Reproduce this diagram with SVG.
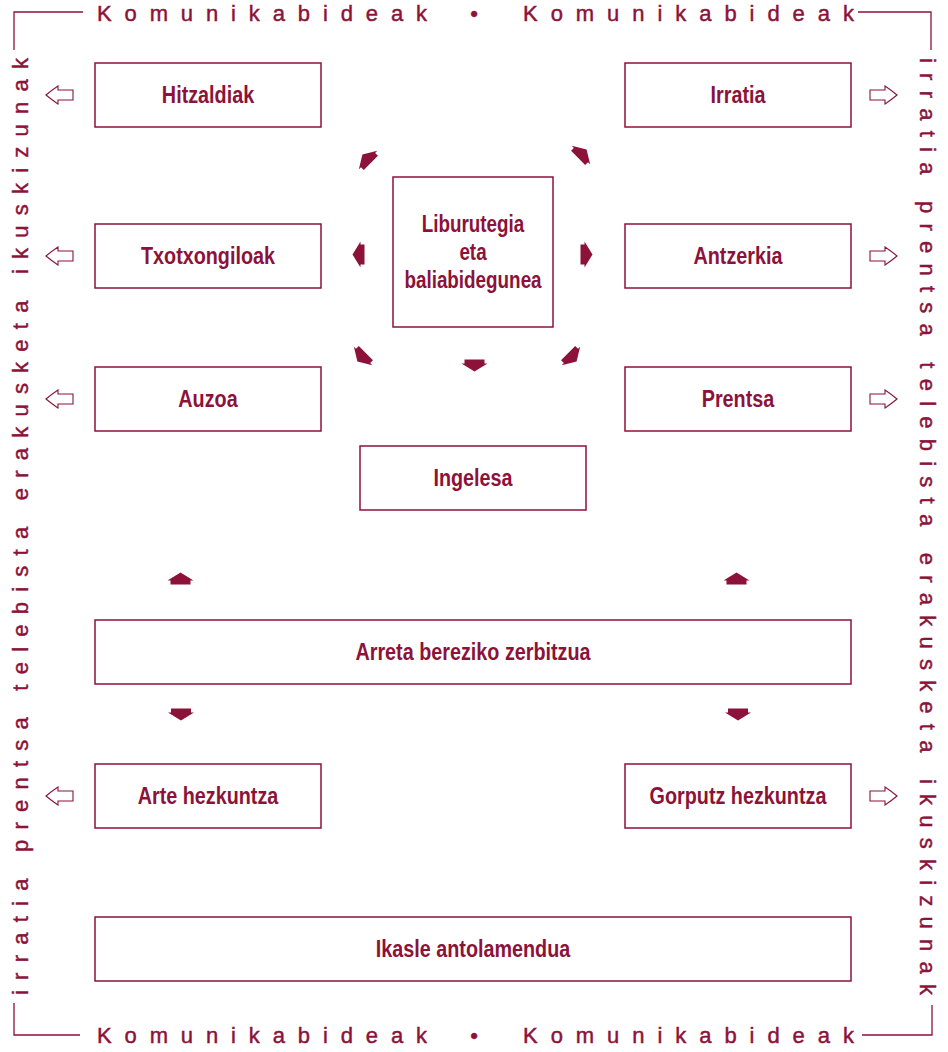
<svg xmlns="http://www.w3.org/2000/svg" width="948" height="1052" viewBox="0 0 948 1052">
<defs>
<style>
.box{fill:#fff;stroke:#8c1239;stroke-width:1.5}
.lbl{font-family:"Liberation Sans",Arial,sans-serif;font-weight:bold;font-size:23px;fill:#8c1239;text-anchor:middle}
.frm{font-family:"Liberation Sans",Arial,sans-serif;font-size:22px;fill:#8c1239;stroke:#8c1239;stroke-width:0.45}
.ln{fill:none;stroke:#8c1239;stroke-width:1.3}
.fa{fill:#8c1239}
.ha{fill:#fff;stroke:#8c1239;stroke-width:1.1}
</style>
<path id="fa" d="M0,-6.5 L13,1.5 L10,1.5 L10,5.5 L-10,5.5 L-10,1.5 L-13,1.5 Z"/>
<path id="ha" d="M0,0 Q6,-5 12,-9 L12,-5 L27,-5 L27,5 L12,5 L12,9 Q6,5 0,0 Z"/>
</defs>
<rect width="948" height="1052" fill="#fff"/>

<g id="frame">
<path class="ln" d="M14,50 V12 H83"/>
<path class="ln" d="M858,12 H931 V50"/>
<path class="ln" d="M14,1003 V1035 H80"/>
<path class="ln" d="M862,1035 H932 V1005"/>
<text class="frm" x="97" y="21" textLength="330" lengthAdjust="spacing">Komunikabideak</text>
<text class="frm" x="474" y="21" text-anchor="middle">•</text>
<text class="frm" x="523" y="21" textLength="331" lengthAdjust="spacing">Komunikabideak</text>
<text class="frm" x="97" y="1043" textLength="330" lengthAdjust="spacing">Komunikabideak</text>
<text class="frm" x="474" y="1043" text-anchor="middle">•</text>
<text class="frm" x="523" y="1043" textLength="331" lengthAdjust="spacing">Komunikabideak</text>
<text class="frm" transform="translate(28,995) rotate(-90)" x="0" y="0" textLength="937" lengthAdjust="spacing">irratia prentsa telebista erakusketa ikuskizunak</text>
<text class="frm" transform="translate(920,58) rotate(90)" x="0" y="0" textLength="937" lengthAdjust="spacing">irratia prentsa telebista erakusketa ikuskizunak</text>
</g>

<g id="connectors">
<use href="#fa" class="fa" transform="translate(474.5,365) rotate(180)"/>
<use href="#fa" class="fa" transform="translate(359,254.5) rotate(-90)"/>
<use href="#fa" class="fa" transform="translate(586,254.5) rotate(90)"/>
<use href="#fa" class="fa" transform="translate(367,159) rotate(-45)"/>
<use href="#fa" class="fa" transform="translate(582,154) rotate(45)"/>
<use href="#fa" class="fa" transform="translate(362,357) rotate(-135)"/>
<use href="#fa" class="fa" transform="translate(572,357) rotate(135)"/>
<use href="#fa" class="fa" transform="translate(180.5,579)"/>
<use href="#fa" class="fa" transform="translate(736.5,579)"/>
<use href="#fa" class="fa" transform="translate(181,714) rotate(180)"/>
<use href="#fa" class="fa" transform="translate(738,714) rotate(180)"/>
<use href="#ha" class="ha" transform="translate(46,95)"/>
<use href="#ha" class="ha" transform="translate(46,256)"/>
<use href="#ha" class="ha" transform="translate(46,399)"/>
<use href="#ha" class="ha" transform="translate(46,796)"/>
<use href="#ha" class="ha" transform="translate(897,95) scale(-1,1)"/>
<use href="#ha" class="ha" transform="translate(897,256) scale(-1,1)"/>
<use href="#ha" class="ha" transform="translate(897,399) scale(-1,1)"/>
<use href="#ha" class="ha" transform="translate(897,796) scale(-1,1)"/>
</g>

<g id="n-hitzaldiak"><rect class="box" x="95" y="63" width="226" height="64"/><text class="lbl" transform="translate(208,103) scale(0.86,1)">Hitzaldiak</text></g>
<g id="n-irratia"><rect class="box" x="625" y="63" width="226" height="64"/><text class="lbl" transform="translate(738,103) scale(0.86,1)">Irratia</text></g>
<g id="n-txotxongiloak"><rect class="box" x="95" y="224" width="226" height="64"/><text class="lbl" transform="translate(208,264) scale(0.86,1)">Txotxongiloak</text></g>
<g id="n-antzerkia"><rect class="box" x="625" y="224" width="226" height="64"/><text class="lbl" transform="translate(738,264) scale(0.86,1)">Antzerkia</text></g>
<g id="n-liburutegia"><rect class="box" x="393" y="177" width="160" height="150"/><text class="lbl" transform="translate(473,232) scale(0.82,1)">Liburutegia</text><text class="lbl" transform="translate(473,260) scale(0.82,1)">eta</text><text class="lbl" transform="translate(473,288) scale(0.82,1)">baliabidegunea</text></g>
<g id="n-auzoa"><rect class="box" x="95" y="367" width="226" height="64"/><text class="lbl" transform="translate(208,407) scale(0.86,1)">Auzoa</text></g>
<g id="n-prentsa"><rect class="box" x="625" y="367" width="226" height="64"/><text class="lbl" transform="translate(738,407) scale(0.86,1)">Prentsa</text></g>
<g id="n-ingelesa"><rect class="box" x="360" y="446" width="226" height="64"/><text class="lbl" transform="translate(473,486) scale(0.86,1)">Ingelesa</text></g>
<g id="n-arreta"><rect class="box" x="95" y="620" width="756" height="64"/><text class="lbl" transform="translate(473,660) scale(0.86,1)">Arreta bereziko zerbitzua</text></g>
<g id="n-arte"><rect class="box" x="95" y="764" width="226" height="64"/><text class="lbl" transform="translate(208,804) scale(0.86,1)">Arte hezkuntza</text></g>
<g id="n-gorputz"><rect class="box" x="625" y="764" width="226" height="64"/><text class="lbl" transform="translate(738,804) scale(0.86,1)">Gorputz hezkuntza</text></g>
<g id="n-ikasle"><rect class="box" x="95" y="917" width="756" height="64"/><text class="lbl" transform="translate(473,957) scale(0.86,1)">Ikasle antolamendua</text></g>
</svg>
